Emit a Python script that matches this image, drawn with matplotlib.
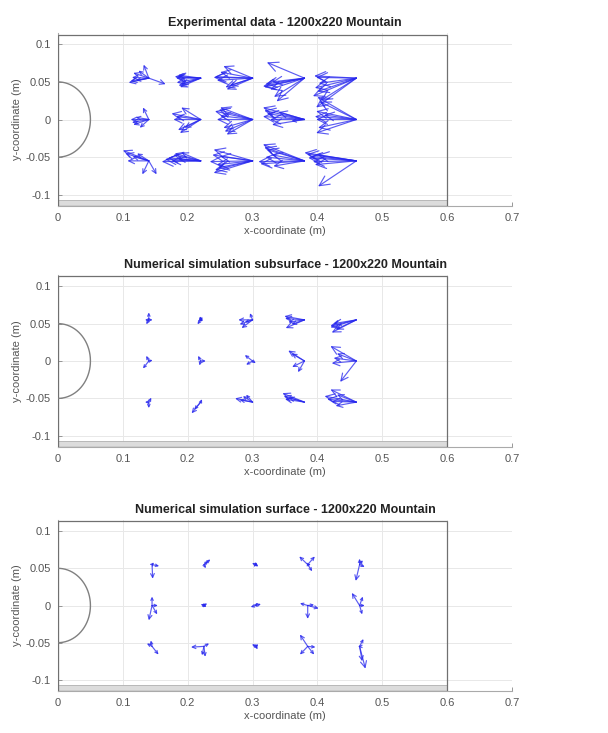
import numpy as np
import matplotlib
matplotlib.use("Agg")
import matplotlib.pyplot as plt
from matplotlib.patches import Rectangle

plt.rcParams['font.family'] = ['Liberation Sans', 'DejaVu Sans']

# ---------------- data ----------------
titles = ["Experimental data - 1200x220 Mountain",
          "Numerical simulation subsurface - 1200x220 Mountain",
          "Numerical simulation surface - 1200x220 Mountain"]

# measurement grid (origins of the arrow groups)
grid_x = [0.14, 0.22, 0.30, 0.38, 0.46]
grid_y = [0.055, 0.0, -0.055]
surf_grid_x = [0.145, 0.225, 0.305, 0.385, 0.465]

mountain_radius = 0.05
flume_length = 0.6

x_ticks = [0, 0.1, 0.2, 0.3, 0.4, 0.5, 0.6, 0.7]
x_tick_labels = ["0", "0.1", "0.2", "0.3", "0.4", "0.5", "0.6", "0.7"]
y_ticks = [-0.1, -0.05, 0, 0.05, 0.1]
y_tick_labels = ["-0.1", "-0.05", "0", "0.05", "0.1"]

# vectors (u, v) per group, ordered row by row (top, middle, bottom), left to right
exp_vectors = [
    # top row
    [(-0.031, -0.006), (-0.024, 0.007), (-0.008, 0.018), (0.026, -0.008), (-0.026, 0.001),
     (-0.020, -0.003), (-0.028, -0.004), (-0.016, 0.010)],
    [(-0.040, 0.002), (-0.037, -0.006), (-0.032, -0.012), (-0.035, 0.004), (-0.030, -0.008),
     (-0.038, 0.000), (-0.034, -0.010), (-0.036, 0.002)],
    [(-0.060, 0.001), (-0.045, 0.016), (-0.040, -0.015), (-0.055, -0.003), (-0.050, 0.008),
     (-0.035, -0.010), (-0.058, 0.002), (-0.042, -0.012)],
    [(-0.058, 0.021), (-0.064, -0.011), (-0.053, -0.015), (-0.043, -0.031), (-0.050, -0.005),
     (-0.060, -0.008), (-0.062, -0.012), (-0.047, -0.025)],
    [(-0.062, 0.001), (-0.064, -0.013), (-0.067, -0.024), (-0.062, -0.039), (-0.058, -0.007),
     (-0.060, -0.018), (-0.065, 0.003), (-0.055, -0.030)],
    # middle row
    [(-0.028, 0.000), (-0.024, -0.007), (-0.009, 0.016), (-0.014, -0.011), (-0.020, 0.003),
     (-0.026, -0.004)],
    [(-0.045, 0.008), (-0.042, 0.000), (-0.030, 0.016), (-0.032, -0.018), (-0.025, -0.011),
     (-0.038, 0.004), (-0.035, -0.014)],
    [(-0.058, 0.011), (-0.050, 0.016), (-0.055, 0.000), (-0.045, -0.011), (-0.040, -0.020),
     (-0.050, 0.005), (-0.052, 0.013), (-0.043, -0.016)],
    [(-0.064, 0.016), (-0.064, 0.004), (-0.053, 0.000), (-0.050, -0.007), (-0.040, 0.010),
     (-0.058, 0.008), (-0.062, 0.012), (-0.020, -0.002)],
    [(-0.062, 0.011), (-0.057, 0.024), (-0.062, 0.000), (-0.059, -0.011), (-0.062, -0.018),
     (-0.050, 0.006), (-0.060, 0.030), (-0.064, 0.004)],
    # bottom row
    [(-0.040, 0.014), (-0.033, 0.000), (-0.010, -0.018), (0.012, -0.018), (-0.018, 0.010),
     (-0.025, 0.006), (-0.036, 0.010)],
    [(-0.060, -0.001), (-0.050, 0.004), (-0.042, 0.008), (-0.030, 0.011), (-0.035, 0.003),
     (-0.045, 0.000), (-0.040, 0.010), (-0.055, 0.002)],
    [(-0.066, -0.001), (-0.060, 0.015), (-0.060, -0.016), (-0.053, -0.009), (-0.050, 0.006),
     (-0.055, -0.005), (-0.062, 0.008), (-0.058, -0.012)],
    [(-0.071, -0.001), (-0.064, 0.022), (-0.058, 0.015), (-0.048, -0.007), (-0.050, 0.008),
     (-0.060, 0.005), (-0.062, 0.018), (-0.068, -0.004)],
    [(-0.080, 0.011), (-0.074, 0.004), (-0.067, -0.001), (-0.059, -0.034), (-0.060, 0.008),
     (-0.070, 0.006), (-0.076, 0.009), (-0.064, -0.005)],
]

sub_vectors = [
    # top row
    [(0.000, 0.010), (-0.006, 0.000), (-0.004, -0.006), (0.006, 0.000)],
    [(-0.005, -0.006), (0.003, 0.004), (-0.001, 0.005), (0.004, -0.001)],
    [(-0.022, 0.000), (-0.020, -0.006), (-0.017, -0.011), (-0.004, 0.009), (-0.012, -0.003)],
    [(-0.031, 0.005), (-0.029, -0.011), (-0.025, -0.003), (-0.030, 0.002), (-0.020, -0.006)],
    [(-0.040, -0.010), (-0.038, -0.017), (-0.035, -0.005), (-0.032, -0.013), (-0.040, -0.008)],
    # middle row
    [(-0.004, 0.007), (0.006, 0.001), (-0.009, -0.010)],
    [(-0.004, 0.007), (0.008, 0.000), (-0.002, -0.006)],
    [(-0.012, 0.008), (0.005, -0.003), (-0.010, -0.005)],
    [(-0.025, 0.014), (-0.019, -0.008), (-0.010, -0.015), (-0.020, 0.010)],
    [(-0.040, 0.020), (-0.038, -0.003), (-0.035, 0.004), (-0.025, -0.028), (-0.030, 0.010)],
    # bottom row
    [(0.000, -0.008), (-0.006, 0.000), (0.004, 0.006)],
    [(-0.014, -0.015), (-0.010, -0.010), (0.002, 0.004)],
    [(-0.027, 0.005), (-0.015, 0.008), (-0.010, 0.010), (-0.020, 0.003)],
    [(-0.034, 0.012), (-0.032, 0.008), (-0.030, 0.004), (-0.025, 0.006)],
    [(-0.049, 0.008), (-0.040, 0.017), (-0.038, 0.001), (-0.032, -0.005), (-0.045, 0.004), (-0.030, 0.010)],
]

surf_vectors = [
    # top row
    [(0.001, -0.019), (0.011, -0.002), (0.003, 0.003)],
    [(0.010, 0.007), (0.003, -0.005), (0.007, 0.005)],
    [(-0.006, 0.002), (0.004, -0.002), (0.000, 0.003)],
    [(-0.013, 0.011), (0.011, 0.011), (0.007, -0.009), (0.005, 0.000)],
    [(-0.006, -0.022), (0.000, 0.008), (0.008, -0.003), (0.005, 0.006)],
    # middle row
    [(-0.005, -0.020), (0.000, 0.012), (0.009, 0.000), (0.008, -0.012)],
    [(-0.005, 0.002), (0.005, 0.003), (0.004, -0.002)],
    [(-0.008, -0.002), (0.008, 0.002), (0.003, 0.004)],
    [(-0.012, 0.003), (0.017, -0.004), (0.000, -0.018), (0.010, 0.001)],
    [(-0.012, 0.017), (0.005, 0.012), (0.004, -0.012), (0.008, 0.000)],
    # bottom row
    [(-0.008, 0.004), (-0.002, 0.008), (0.010, -0.011)],
    [(-0.020, -0.001), (0.008, 0.004), (0.002, -0.014), (-0.003, -0.012)],
    [(-0.006, 0.003), (0.003, -0.004), (0.004, 0.003)],
    [(-0.012, 0.016), (-0.012, -0.011), (0.010, -0.011), (0.012, -0.001)],
    [(0.009, -0.030), (0.004, -0.020), (0.006, 0.010), (-0.002, 0.000)],
]

panels = [(exp_vectors, grid_x), (sub_vectors, grid_x), (surf_vectors, surf_grid_x)]

# ---------------- figure ----------------
W, H = 608, 733
fig = plt.figure(figsize=(W / 100, H / 100), dpi=100)
axes_px = [(33, 206), (275, 447), (520, 691)]   # top/bottom in pixels
left_px, right_px = 58, 512

arrow_color = '#2626ee'
text_grey = '#555555'

for (vectors, gx), (top, bot), title in zip(panels, axes_px, titles):
    ax = fig.add_axes([left_px / W, 1 - bot / H, (right_px - left_px) / W, (bot - top) / H])
    ax.set_xlim(0, 0.7)
    ax.set_ylim(-0.115, 0.115)

    ax.set_xticks(x_ticks)
    ax.set_xticklabels(x_tick_labels)
    ax.set_yticks(y_ticks)
    ax.set_yticklabels(y_tick_labels)
    ax.grid(True, color='#e8e8e8', lw=0.7)
    ax.set_axisbelow(True)
    ax.tick_params(direction='in', length=3, width=0.6, colors='#888888',
                   labelcolor=text_grey, labelsize=8, pad=5)
    for s in ['top', 'right']:
        ax.spines[s].set_visible(False)
    for s in ['left', 'bottom']:
        ax.spines[s].set_color('#aaaaaa')
        ax.spines[s].set_linewidth(0.8)

    ax.set_title(title, fontsize=9, fontweight='bold', color='#222222', pad=5)
    ax.set_xlabel("x-coordinate (m)", fontsize=8, color=text_grey, labelpad=2)
    ax.set_ylabel("y-coordinate (m)", fontsize=8, color=text_grey, labelpad=3)

    # flume floor strip and outline
    ax.add_patch(Rectangle((0, -0.115), flume_length, 0.008, facecolor='#dcdcdc',
                           edgecolor='#b0b0b0', lw=0.6, zorder=2))
    ax.add_patch(Rectangle((0, -0.115), flume_length, 0.228, facecolor='none',
                           edgecolor='#707070', lw=0.9, zorder=3))

    # mountain (semicircle)
    t = np.linspace(-np.pi / 2, np.pi / 2, 200)
    ax.plot(mountain_radius * np.cos(t), mountain_radius * np.sin(t),
            color='#808080', lw=1.0, zorder=3)

    # arrows
    fig.canvas.draw()
    for gi, vecs in enumerate(vectors):
        r, c = divmod(gi, 5)
        x0, y0 = gx[c], grid_y[r]
        for (u, v) in vecs:
            p0 = ax.transData.transform((x0, y0))
            p1 = ax.transData.transform((x0 + u, y0 + v))
            L_pt = np.hypot(*(p1 - p0)) * 72 / 100
            ms = float(np.clip(0.6 * L_pt, 4.0, 16.0))
            ax.annotate("", xy=(x0 + u, y0 + v), xytext=(x0, y0),
                        arrowprops=dict(arrowstyle='->,head_length=0.45,head_width=0.22',
                                        color=arrow_color, lw=0.85, alpha=0.75,
                                        shrinkA=0, shrinkB=0, mutation_scale=ms),
                        zorder=4)

fig.savefig("out.png", dpi=100)
